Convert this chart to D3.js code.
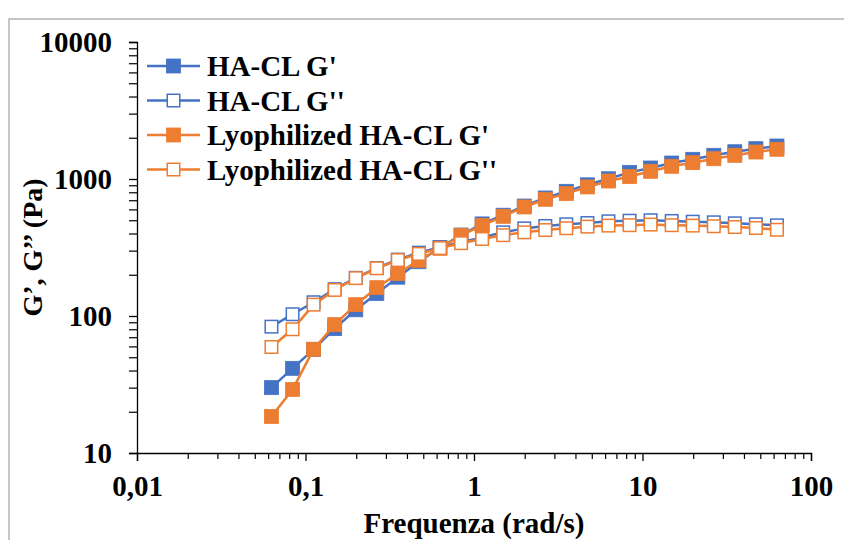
<!DOCTYPE html>
<html>
<head>
<meta charset="utf-8">
<script src="https://cdn.jsdelivr.net/npm/d3@7/dist/d3.min.js"></script>
<style>
  html, body { margin: 0; padding: 0; background: #fff; }
  svg { display: block; }
  text { font-family: "Liberation Serif", "Times New Roman", serif; font-weight: bold; fill: #000; }
</style>
</head>
<body>
<svg id="chart" width="844" height="540"></svg>
<script>
// ---- Data ----
const frequency = [0.0628, 0.0838, 0.1117, 0.149, 0.1987, 0.265, 0.353, 0.471, 0.628, 0.838,
  1.117, 1.49, 1.987, 2.65, 3.53, 4.71, 6.28, 8.38, 11.17, 14.9, 19.87, 26.5, 35.3, 47.1, 62.8];
const haclGp  = [30, 41.5, 57, 81, 111, 146, 192, 249, 316, 390,
  470, 544, 635, 727, 813, 907, 1004, 1118, 1203, 1308, 1392, 1489, 1581, 1665, 1741];
const haclGpp = [83.6, 103, 126, 157, 190, 224, 258, 290, 318, 346,
  375, 408, 436, 454, 467, 477, 491, 496, 500, 494, 488, 483, 475, 467, 459];
const lyoGp   = [18.5, 29.1, 57.2, 86.5, 121, 161, 204, 255, 312, 388,
  459, 534, 625, 711, 782, 875, 967, 1042, 1138, 1238, 1316, 1406, 1489, 1574, 1648];
const lyoGpp  = [59.4, 80, 121, 155, 189, 223, 256, 284, 313, 340,
  365, 389, 408, 424, 437, 449, 457, 460, 465, 460, 457, 452, 446, 439, 426];
const seriesNames = ["HA-CL G'", "HA-CL G''", "Lyophilized HA-CL G'", "Lyophilized HA-CL G''"];
const xTickValues = [0.01, 0.1, 1, 10, 100];
const xTickLabels = ["0,01", "0,1", "1", "10", "100"];
const yTickValues = [10, 100, 1000, 10000];
const yTickLabels = ["10", "100", "1000", "10000"];
const xTitle = "Frequenza (rad/s)";
const yTitle = "G\u2019, G\u2019\u2019 (Pa)";

const BLUE = "#4472C4", ORANGE = "#ED7D31";
const series = [
  { name: seriesNames[0], values: haclGp,  color: BLUE,   filled: true },
  { name: seriesNames[1], values: haclGpp, color: BLUE,   filled: false },
  { name: seriesNames[2], values: lyoGp,   color: ORANGE, filled: true },
  { name: seriesNames[3], values: lyoGpp,  color: ORANGE, filled: false }
];

const svg = d3.select("#chart");
const L = 137, R = 811, T = 42, B = 453;
const x = d3.scaleLog().domain([0.01, 100]).range([L, R]);
const y = d3.scaleLog().domain([10, 10000]).range([B, T]);

// outer frame
svg.append("rect").attr("x", 9).attr("y", 19).attr("width", 900).attr("height", 600)
  .attr("fill", "none").attr("stroke", "#b4b4b4").attr("stroke-width", 1.5);

// minor ticks
const minorX = [];
for (let d = 0.01; d < 100; d *= 10) for (let k = 2; k <= 9; k++) minorX.push(d * k);
const minorY = [];
for (let d = 10; d < 10000; d *= 10) for (let k = 2; k <= 9; k++) minorY.push(d * k);

const xAxis = d3.axisBottom(x).tickValues(xTickValues)
  .tickFormat((d, i) => xTickLabels[i]).tickSize(8).tickPadding(14);
const gx = svg.append("g").attr("transform", `translate(0,${B})`).call(xAxis);
gx.select(".domain").attr("stroke", "#000").attr("stroke-width", 1.3);
gx.selectAll(".tick line").attr("stroke", "#000").attr("stroke-width", 1.3);
gx.selectAll(".tick text").style("font-size", "29px").attr("fill", "#000");
const xMinor = d3.axisBottom(x).tickValues(minorX).tickSize(6).tickFormat("");
const gxm = svg.append("g").attr("transform", `translate(0,${B})`).call(xMinor);
gxm.select(".domain").remove();
gxm.selectAll(".tick line").attr("stroke", "#000").attr("stroke-width", 1.2);

const yAxis = d3.axisLeft(y).tickValues(yTickValues)
  .tickFormat((d, i) => yTickLabels[i]).tickSize(8).tickPadding(17);
const gy = svg.append("g").attr("transform", `translate(${L},0)`).call(yAxis);
gy.select(".domain").attr("stroke", "#000").attr("stroke-width", 1.3);
gy.selectAll(".tick line").attr("stroke", "#000").attr("stroke-width", 1.3);
gy.selectAll(".tick text").style("font-size", "29px").attr("fill", "#000");
const yMinor = d3.axisLeft(y).tickValues(minorY).tickSize(8).tickFormat("");
const gym = svg.append("g").attr("transform", `translate(${L},0)`).call(yMinor);
gym.select(".domain").remove();
gym.selectAll(".tick line").attr("stroke", "#000").attr("stroke-width", 1.2);

// series
const line = d3.line().x((d, i) => x(frequency[i])).y(d => y(d));
series.forEach(s => {
  const g = svg.append("g");
  g.append("path").datum(s.values).attr("d", line)
    .attr("fill", "none").attr("stroke", s.color).attr("stroke-width", 2.5);
  const sz = s.filled ? 14 : 12.5;
  g.selectAll("rect").data(s.values).join("rect")
    .attr("x", (d, i) => x(frequency[i]) - sz / 2)
    .attr("y", d => y(d) - sz / 2)
    .attr("width", sz).attr("height", sz)
    .attr("fill", s.filled ? s.color : "#fff")
    .attr("stroke", s.color).attr("stroke-width", s.filled ? 0.8 : 1.5);
});

// legend
const leg = svg.append("g");
const rowY = [66, 100.5, 135, 169.5];
series.forEach((s, i) => {
  const cy = rowY[i];
  leg.append("line").attr("x1", 147).attr("x2", 200).attr("y1", cy).attr("y2", cy)
    .attr("stroke", s.color).attr("stroke-width", 2.5);
  const sz = s.filled ? 14 : 12.5;
  leg.append("rect").attr("x", 173.5 - sz / 2).attr("y", cy - sz / 2)
    .attr("width", sz).attr("height", sz)
    .attr("fill", s.filled ? s.color : "#fff")
    .attr("stroke", s.color).attr("stroke-width", s.filled ? 0.8 : 1.5);
  leg.append("text").attr("x", 207).attr("y", cy + 10).style("font-size", "29px").text(s.name);
});

// axis titles
svg.append("text").attr("x", (L + R) / 2).attr("y", 533).attr("text-anchor", "middle")
  .style("font-size", "29px").text(xTitle);
svg.append("text").attr("transform", `translate(42,${(T + B) / 2}) rotate(-90)`)
  .attr("text-anchor", "middle").style("font-size", "28px").text(yTitle);
</script>
</body>
</html>
